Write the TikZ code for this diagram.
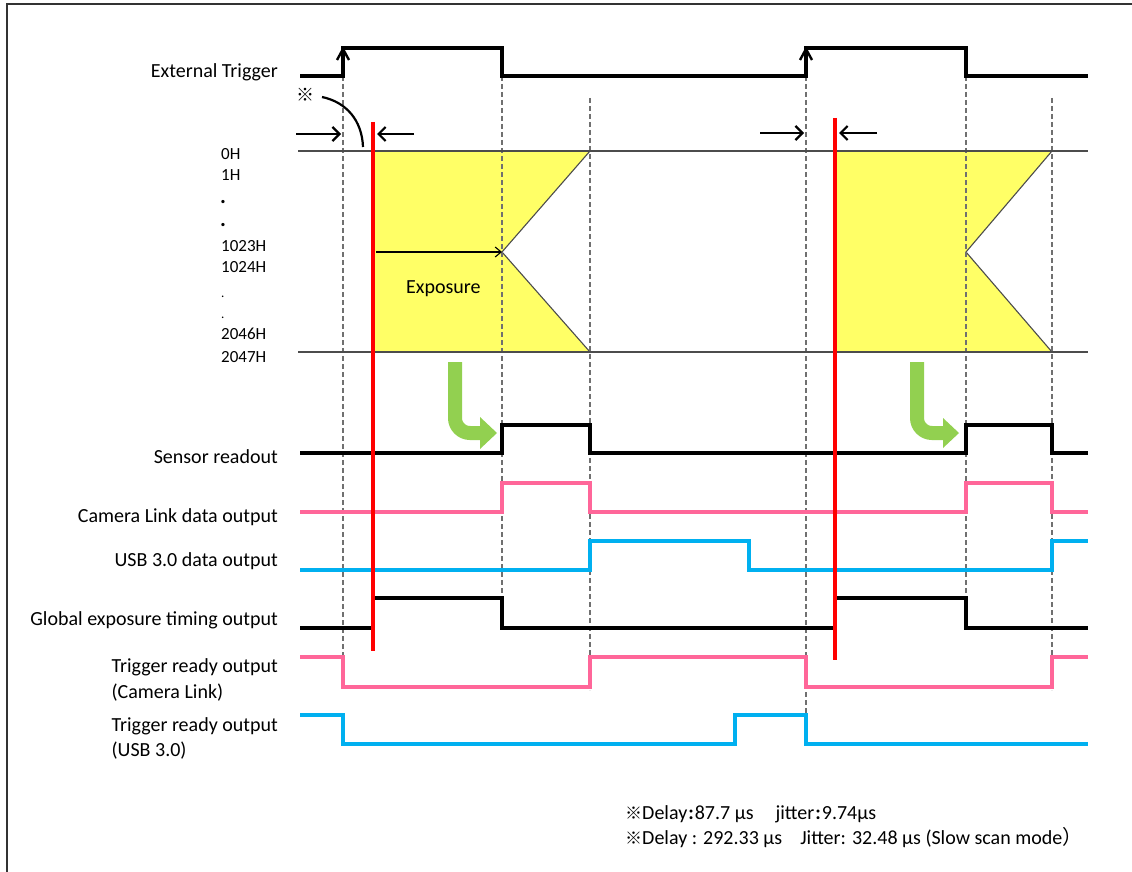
\documentclass[tikz,border=0pt]{standalone}
\usepackage{fontspec}
\setmainfont{Carlito}
\newfontfamily\cjk{Noto Sans CJK JP}
\usetikzlibrary{arrows.meta}
\definecolor{pinkc}{HTML}{FF6699}
\definecolor{bluec}{HTML}{00B0F0}
\definecolor{greenc}{HTML}{92D050}
\definecolor{yellowc}{HTML}{FFFF66}
\definecolor{redc}{HTML}{FF0000}
\definecolor{guidec}{HTML}{707070}
\begin{document}
\begin{tikzpicture}[x=1pt,y=-1pt,
  sig/.style={line width=3.2pt, line join=miter},
  blk/.style={sig, draw=black},
  pnk/.style={sig, draw=pinkc},
  blu/.style={sig, draw=bluec},
  guide/.style={draw=guidec, dash pattern=on 5pt off 3pt, line width=1.2pt},
  rowline/.style={draw=black!70, line width=1.3pt},
  redline/.style={draw=redc, line width=4pt},
  barb/.style={line width=2.2pt, -{Straight Barb[length=7pt,width=14pt,line width=2.2pt]}},
  lbl/.style={anchor=base east, font=\fontsize{20}{23}\selectfont, inner sep=0pt},
  lblw/.style={anchor=base west, font=\fontsize{20}{23}\selectfont, inner sep=0pt},
  row/.style={anchor=base west, font=\fontsize{17}{20}\selectfont, inner sep=0pt},
  greenarrow/.style={draw=greenc, line width=14pt, rounded corners=15pt},
  greenhead/.style={fill=greenc, draw=none}
]
\useasboundingbox (0,0) rectangle (1132,872);
% frame
\draw[line width=2.2pt, draw=black!80] (7,872) -- (7,4) -- (1134,4);

% yellow exposure areas
\fill[yellowc] (373,151) -- (590,151) -- (502,252) -- (590,352) -- (373,352) -- cycle;
\fill[yellowc] (835,151) -- (1052,151) -- (966,252) -- (1052,352) -- (835,352) -- cycle;
\draw[draw=black!70, line width=1.1pt] (590,151) -- (502,252) -- (590,352);
\draw[draw=black!70, line width=1.1pt] (1052,151) -- (966,252) -- (1052,352);

% guide lines
\draw[guide] (343,76) -- (343,687);
\draw[guide] (502,76) -- (502,628);
\draw[guide] (590,98) -- (590,690);
\draw[guide] (806,76) -- (806,744);
\draw[guide] (966,76) -- (966,628);
\draw[guide] (1052,98) -- (1052,690);

% row lines
\draw[rowline] (298,151) -- (1088,151);
\draw[rowline] (298,352) -- (1088,352);

% exposure arrow
\coordinate (expS) at (376,252);
\coordinate (expE) at (502,252);
\draw[line width=1.1pt, -{Straight Barb[length=6pt,width=10pt]}] (expS) -- (expE);
\node[lblw] (exposure) at (406,293) {Exposure};

% waveforms
\draw[blk] (300,76) -| (343,48) -| (502,76) -| (806,48) -| (966,76) -- (1088,76);
\draw[line width=2.4pt] (337,60) -- (343,49) -- (349,60);
\draw[line width=2.4pt] (800,60) -- (806,49) -- (812,60);

\draw[blk] (300,453) -| (502,425) -| (590,453) -| (966,425) -| (1052,453) -- (1088,453);
\draw[pnk] (300,512) -| (502,483) -| (590,512) -| (966,483) -| (1052,512) -- (1088,512);
\draw[blu] (300,570) -| (590,541) -| (749,570) -| (1052,541) -- (1088,541);
\draw[blk] (300,628) -| (373,598) -| (502,628) -| (835,598) -| (966,628) -- (1088,628);
\draw[pnk] (300,657) -| (343,687) -| (590,657) -| (806,687) -| (1052,657) -- (1088,657);
\draw[blu] (300,715) -| (343,744) -| (735,715) -| (806,744) -- (1088,744);

% green arrows
\draw[greenarrow] (455,362) -- (455,433) -- (482,433);
\fill[greenhead] (480,417) -- (497,433) -- (480,449) -- cycle;
\draw[greenarrow] (917,362) -- (917,433) -- (945,433);
\fill[greenhead] (943,418) -- (959,433) -- (943,448) -- cycle;

% red lines
\draw[redline] (373,122) -- (373,651);
\draw[redline] (835,118) -- (835,660);

% delay arrows
\coordinate (a1s) at (296,134); \coordinate (a1e) at (341,134);
\coordinate (a2s) at (414,134); \coordinate (a2e) at (377,134);
\coordinate (a3s) at (760,133); \coordinate (a3e) at (804,133);
\coordinate (a4s) at (877,133); \coordinate (a4e) at (839,133);
\draw[barb] (a1s) -- (a1e);
\draw[barb] (a2s) -- (a2e);
\draw[barb] (a3s) -- (a3e);
\draw[barb] (a4s) -- (a4e);

% asterisk curve
\node[anchor=center, inner sep=0pt, font=\cjk\fontsize{18}{18}\selectfont] (mark) at (305,95) {※};
\coordinate (cs) at (322,97);
\coordinate (ce) at (363,147);
\draw[line width=2.2pt] (cs) .. controls (346,102) and (362,120) .. (ce);

% labels
\node[lbl] (extT) at (278,78) {External Trigger};
\node[lbl] (sro) at (278,463) {Sensor readout};
\node[lbl] (cld) at (278,522) {Camera Link data output};
\node[lbl] (usbd) at (278,566) {USB 3.0 data output};
\node[lbl] (geto) at (278,625) {Global exposure timing output};
\node[lbl] (tr1) at (278,672) {Trigger ready output};
\node[lblw, yshift=-26pt] (tr1b) at (tr1.base west) {(Camera Link)};
\node[lbl] (tr2) at (278,731) {Trigger ready output};
\node[lblw, yshift=-25pt] (tr2b) at (tr2.base west) {(USB 3.0)};

% row labels
\node[row] (r0) at (221,159) {0H};
\node[row] (r1) at (221,180) {1H};
\node[row, font=\fontsize{22}{22}\selectfont\bfseries] (d1) at (220,203) {.};
\node[row, font=\fontsize{22}{22}\selectfont\bfseries] (d2) at (220,226) {.};
\node[row] (r1023) at (221,251) {1023H};
\node[row] (r1024) at (221,272) {1024H};
\node[row, font=\fontsize{13}{13}\selectfont] (d3) at (221,297) {.};
\node[row, font=\fontsize{13}{13}\selectfont] (d4) at (221,318) {.};
\node[row] (r2046) at (221,339) {2046H};
\node[row] (r2047) at (221,362) {2047H};

% footnotes
\node[lblw] (fn1) at (625,819) {{\cjk\fontsize{17}{17}\selectfont ※}Delay\hspace{1pt}\textbf{:}\hspace{1pt}87.7 µs\hspace{1.1em}jitter\hspace{1pt}\textbf{:}\hspace{1pt}9.74µs};
\node[lblw] (fn2) at (625,844) {{\cjk\fontsize{17}{17}\selectfont ※}Delay : 292.33 µs\hspace{0.9em}Jitter: 32.48 µs (Slow scan mode{\cjk ）}};
\end{tikzpicture}
\end{document}
